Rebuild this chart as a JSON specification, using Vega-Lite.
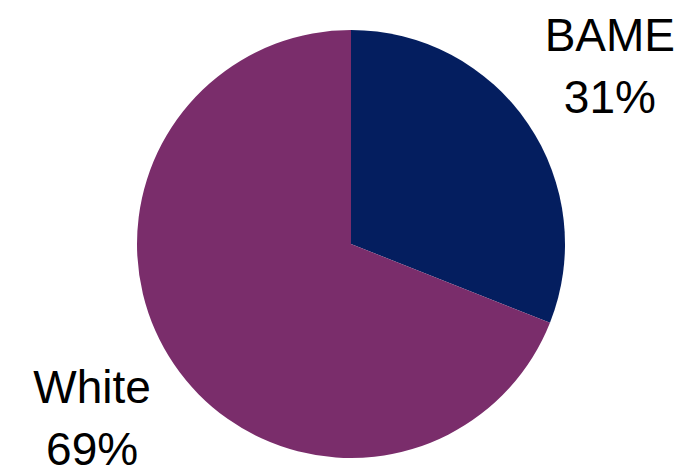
{
  "$schema": "https://vega.github.io/schema/vega-lite/v6.json",
  "width": 670,
  "height": 462,
  "padding": {"left": 16, "top": 13, "right": 0, "bottom": 0},
  "background": "white",
  "data": {"values": [
    {"group": "BAME", "share": 31, "label": "BAME\n31%"},
    {"group": "White", "share": 69, "label": "White\n69%"}
  ]},
  "encoding": {
    "theta": {"field": "share", "type": "quantitative", "stack": true},
    "order": {"field": "group", "sort": "ascending"}
  },
  "layer": [
    {
      "mark": {"type": "arc", "radius": 214, "stroke": null},
      "encoding": {
        "color": {"field": "group", "type": "nominal", "scale": {"domain": ["BAME", "White"], "range": ["#041E5F", "#7A2D6B"]}, "legend": null}
      }
    },
    {
      "mark": {"type": "text", "radius": 313, "dy": -31, "font": "Liberation Sans", "fontSize": 46, "lineBreak": "\n", "lineHeight": 62, "color": "black", "align": "center", "baseline": "middle"},
      "encoding": {"text": {"field": "label", "type": "nominal"}}
    }
  ],
  "config": {"view": {"stroke": null}}
}
